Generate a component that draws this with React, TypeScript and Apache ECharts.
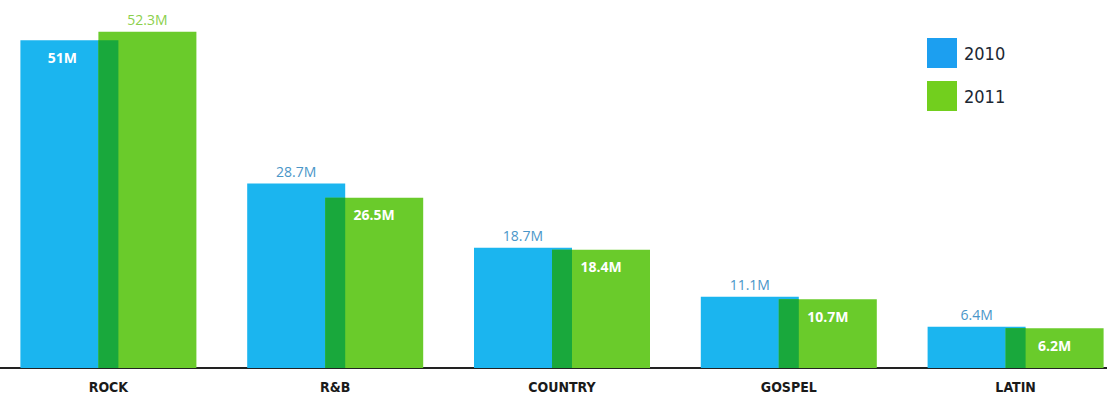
import React, { useEffect, useRef } from "react";
import * as echarts from "echarts";

const categories = ["ROCK", "R&B", "COUNTRY", "GOSPEL", "LATIN"];
const sales2010 = [51, 28.7, 18.7, 11.1, 6.4];
const sales2011 = [52.3, 26.5, 18.4, 10.7, 6.2];
const seriesNames = ["2010", "2011"];

const BLUE = "#1bb5ef";
const GREEN = "#6acb2b";
const OVERLAP = "#19a83c";
const BAR_W = 98;
const OVER_W = 20;

export default function App() {
  const ref = useRef<HTMLDivElement>(null);
  useEffect(() => {
    if (!ref.current) return;
    const chart = echarts.init(ref.current, null, { renderer: "svg" });
    const labelFont = "'Open Sans', 'DejaVu Sans', sans-serif";
    const condensed = "'Liberation Sans Narrow', 'DejaVu Sans Condensed', sans-serif";

    const blueData = sales2010.map((v, i) => {
      const inside = v < sales2011[i];
      return {
        value: v,
        label: inside
          ? { position: "insideTop", distance: 10, color: "#ffffff", fontWeight: "bold", offset: [-7, 0] }
          : { position: "top", distance: 5, color: "#4a96c8", fontWeight: "normal" },
      };
    });
    const greenData = sales2011.map((v, i) => {
      const inside = v < sales2010[i];
      return {
        value: v,
        label: inside
          ? { position: "insideTop", distance: 10, color: "#ffffff", fontWeight: "bold" }
          : { position: "top", distance: 5, color: "#8cd04c", fontWeight: "normal" },
      };
    });
    const overlapData = categories.map((_, i) => [i, Math.min(sales2010[i], sales2011[i])]);

    chart.setOption({
      animation: false,
      backgroundColor: "#ffffff",
      grid: { left: -5, width: 1134, top: 8, bottom: 26, containLabel: false, outerBoundsMode: "none" },
      legend: {
        orient: "vertical",
        left: 927,
        top: 38,
        padding: 0,
        itemWidth: 30,
        itemHeight: 30,
        itemGap: 13,
        icon: "rect",
        data: [
          { name: seriesNames[0], itemStyle: { color: "#1c9ff0" } },
          { name: seriesNames[1], itemStyle: { color: "#72cf1e" } },
        ],
        textStyle: { fontFamily: condensed, fontSize: 18, fontWeight: 500, color: "#1b2733", padding: [0, 0, 0, 2] },
      },
      xAxis: {
        type: "category",
        data: categories,
        axisLine: { lineStyle: { color: "#222222", width: 2 } },
        axisTick: { show: false },
        axisLabel: { fontFamily: condensed, fontSize: 14, fontWeight: 600, color: "#1a1a1a", margin: 12 },
      },
      yAxis: {
        type: "value",
        min: 0,
        max: 56,
        show: false,
        splitLine: { show: false },
      },
      series: [
        {
          name: seriesNames[0],
          type: "bar",
          data: blueData,
          barWidth: BAR_W,
          barGap: `${(-OVER_W / BAR_W) * 100}%`,
          itemStyle: { color: BLUE },
          label: { show: true, fontFamily: labelFont, fontSize: 14, formatter: (p: any) => `${p.value}M` },
          z: 2,
        },
        {
          name: seriesNames[1],
          type: "bar",
          data: greenData,
          barWidth: BAR_W,
          itemStyle: { color: GREEN },
          label: { show: true, fontFamily: labelFont, fontSize: 14, formatter: (p: any) => `${p.value}M` },
          z: 3,
        },
        {
          name: "overlap",
          type: "custom",
          data: overlapData,
          z: 4,
          silent: true,
          renderItem: (params: any, api: any) => {
            const idx = api.value(0);
            const v = api.value(1);
            const base = api.coord([idx, 0]);
            const top = api.coord([idx, v]);
            return {
              type: "rect",
              shape: { x: base[0] - OVER_W / 2, y: top[1], width: OVER_W, height: base[1] - top[1] },
              style: { fill: OVERLAP },
            };
          },
        },
      ],
    });
    return () => chart.dispose();
  }, []);
  return (
    <div
      ref={ref}
      style={{ position: "absolute", left: 0, top: 0, width: 1107, height: 394 }}
    />
  );
}
